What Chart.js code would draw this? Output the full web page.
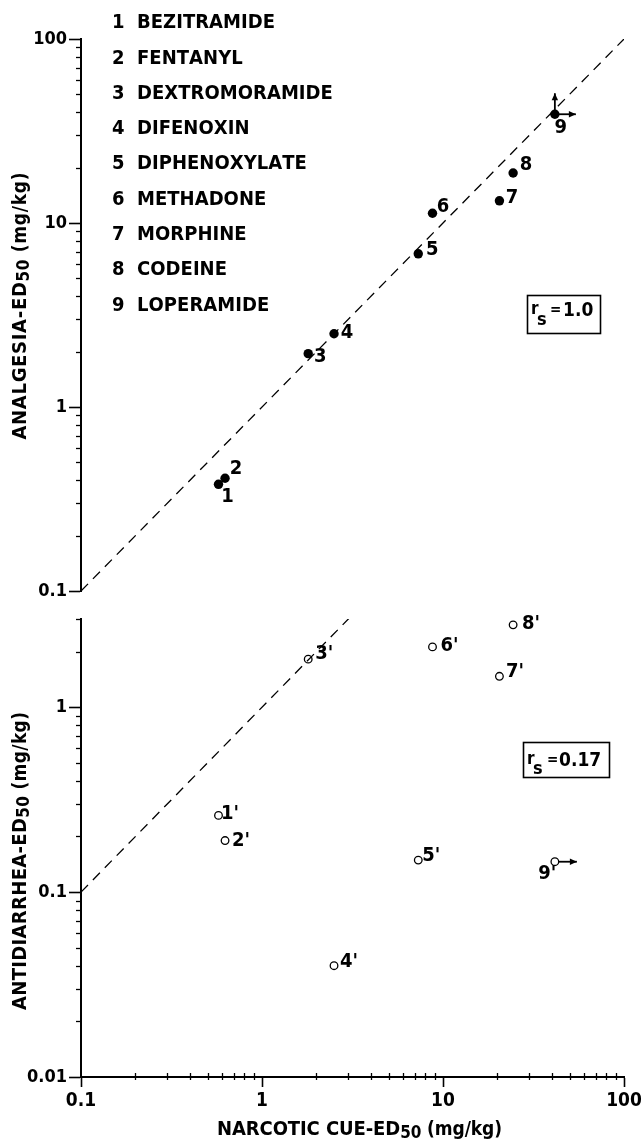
<!DOCTYPE html>
<html><head><meta charset="utf-8">
<script src="https://cdn.jsdelivr.net/npm/chart.js@4.4.1/dist/chart.umd.min.js"></script>
<style>
html,body{margin:0;padding:0;background:#fff;}
#wrap{position:relative;width:641px;height:1142px;overflow:hidden;background:#fff;}
.pane{position:absolute;left:0;}
</style></head><body>
<div id="wrap">
<canvas id="cTop" class="pane" width="680" height="612" style="top:0"></canvas>
<canvas id="cBot" class="pane" width="680" height="542" style="top:600px"></canvas>
</div>
<script>
// ---------------- data ----------------
const compoundNumbers = ['1','2','3','4','5','6','7','8','9'];
const compoundNames = ['BEZITRAMIDE','FENTANYL','DEXTROMORAMIDE','DIFENOXIN','DIPHENOXYLATE','METHADONE','MORPHINE','CODEINE','LOPERAMIDE'];
const narcoticCueED50 = [0.575, 0.625, 1.8, 2.5, 7.3, 8.75, 20.5, 24.4, 41.5];
const analgesiaED50 = [0.38, 0.41, 1.95, 2.5, 6.8, 11.3, 13.2, 18.7, 39];
const antidiarrheaED50 = [0.26, 0.19, 1.82, 0.040, 0.149, 2.12, 1.47, 2.79, 0.146];
const antidiarrheaPointLabels = ["1'","2'","3'","4'","5'","6'","7'","8'","9'"];
const identityLine = [0.1, 100];
const xRange = [0.1, 100];
const analgesiaRange = [0.1, 100];
const antidiarrheaRange = [0.01, 3];
const xTickLabels = ['0.1','1','10','100'];
const analgesiaTickLabels = ['0.1','1','10','100'];
const antidiarrheaTickLabels = ['0.01','0.1','1'];
const rsAnalgesia = '1.0';
const rsAntidiarrhea = '0.17';
const xTitle = ['NARCOTIC CUE-ED','50',' (mg/kg)'];
const analgesiaTitle = ['ANALGESIA-ED','50',' (mg/kg)'];
const antidiarrheaTitle = ['ANTIDIARRHEA-ED','50',' (mg/kg)'];

// ---------------- font choice ----------------
function hasFont(name) {
  const c = document.createElement('canvas').getContext('2d');
  const t = 'BEZITRAMIDE 0123456789 mg/kg';
  c.font = '40px monospace'; const a = c.measureText(t).width;
  c.font = `40px "${name}", monospace`; const b = c.measureText(t).width;
  return Math.abs(a - b) > 0.5;
}
const candidates = [['Liberation Sans Narrow', 'bold'], ['DejaVu Sans Condensed', 'bold'], ['Roboto Condensed', 'bold'], ['Roboto', 'bold'], ['DejaVu Sans', 'bold']];
const pick = candidates.find(c => hasFont(c[0])) || ['sans-serif', 'bold'];
const FONT = `"${pick[0]}", sans-serif`;
const WEIGHT = pick[1];

// ---------------- helpers ----------------
const font = (size, weight) => `${weight || WEIGHT} ${size}px ${FONT}`;
const isPow10 = v => { const l = Math.log10(v); return Math.abs(l - Math.round(l)) < 1e-9; };
function decadeTicks(min, max) {
  const out = [];
  for (let e = Math.floor(Math.log10(min)); e <= Math.ceil(Math.log10(max)); e++) {
    for (let m = 1; m <= 9; m++) {
      const v = parseFloat((m * Math.pow(10, e)).toPrecision(6));
      if (v >= min * 0.9999 && v <= max * 1.0001) out.push(v);
    }
  }
  return out;
}
const labelFor = list => v => { const s = list.find(l => Math.abs(parseFloat(l) - v) <= 1e-6 * v); return s === undefined ? '' : s; };

function drawSpaced(ctx, t, x, y, sp) { for (const ch of t) { ctx.fillText(ch, x, y); x += ctx.measureText(ch).width + sp; } return x; }
function spacedWidth(ctx, t, sp) { let w = 0; for (const ch of t) w += ctx.measureText(ch).width + sp; return w - sp; }
function drawFit(ctx, t, x, y, target) { const w = spacedWidth(ctx, t, 0); drawSpaced(ctx, t, x, y, Math.max(0, (target - w) / Math.max(1, t.length - 1))); }
function drawRich(ctx, parts, cx, cy, target) {
  let w = 0, n = 0;
  for (const p of parts) { ctx.font = font(p.size, p.weight); for (const ch of p.t) { w += ctx.measureText(ch).width; n++; } }
  const sp = target ? (target - w) / (n - 1) : 0;
  let x = cx - (w + sp * (n - 1)) / 2;
  ctx.textBaseline = 'middle'; ctx.textAlign = 'left';
  for (const p of parts) {
    ctx.font = font(p.size, p.weight);
    for (const ch of p.t) { ctx.fillText(ch, x, cy + (p.dy || 0)); x += ctx.measureText(ch).width + sp; }
  }
}
function arrow(ctx, x0, y0, x1, y1) {
  ctx.beginPath(); ctx.moveTo(x0, y0); ctx.lineTo(x1, y1); ctx.lineWidth = 1.8; ctx.stroke();
  const a = Math.atan2(y1 - y0, x1 - x0), L = 7, W = 3.2;
  ctx.beginPath();
  ctx.moveTo(x1, y1);
  ctx.lineTo(x1 - L * Math.cos(a) - W * Math.sin(a), y1 - L * Math.sin(a) + W * Math.cos(a));
  ctx.lineTo(x1 - L * Math.cos(a) + W * Math.sin(a), y1 - L * Math.sin(a) - W * Math.cos(a));
  ctx.closePath(); ctx.fill();
}

// plugin: minor ticks, point labels, arrows, titles, boxes, legend list
const annot = {
  id: 'annot',
  afterDraw(chart, args, o) {
    const ctx = chart.ctx; ctx.save();
    ctx.fillStyle = '#000'; ctx.strokeStyle = '#000';
    // minor ticks
    const ys = chart.scales.y;
    ctx.lineWidth = 1.3;
    for (const t of ys.ticks) {
      if (isPow10(t.value)) continue;
      const p = Math.round(ys.getPixelForValue(t.value)) + 0.5;
      ctx.beginPath(); ctx.moveTo(chart.chartArea.left, p); ctx.lineTo(chart.chartArea.left - 5, p); ctx.stroke();
    }
    const xs = chart.scales.x;
    if (xs.options.display) {
      for (const t of xs.ticks) {
        if (isPow10(t.value)) continue;
        const p = Math.round(xs.getPixelForValue(t.value)) + 0.5;
        ctx.beginPath(); ctx.moveTo(p, chart.chartArea.bottom + 3); ctx.lineTo(p, chart.chartArea.bottom - 4); ctx.stroke();
      }
    }
    // point labels
    const meta = chart.getDatasetMeta(o.pointDataset);
    ctx.font = font(20); ctx.textAlign = 'center'; ctx.textBaseline = 'middle';
    meta.data.forEach((el, i) => {
      const [dx, dy] = o.labelOffsets[i];
      ctx.fillText(o.pointLabels[i], el.x + dx, el.y + dy);
    });
    // arrows (censored values)
    for (const a of o.arrows) {
      const el = meta.data[a.index];
      if (a.dir === 'up') arrow(ctx, el.x, el.y, el.x, el.y - a.len);
      else arrow(ctx, el.x + (a.start || 0), el.y, el.x + a.len, el.y);
    }
    // y title
    ctx.save();
    ctx.translate(o.yTitle.x, o.yTitle.y); ctx.rotate(-Math.PI / 2);
    drawRich(ctx, [{t: o.yTitle.parts[0], size: 20}, {t: o.yTitle.parts[1], size: 17, dy: 4}, {t: o.yTitle.parts[2], size: 19}], 0, 0, o.yTitle.len);
    ctx.restore();
    if (o.xTitle) drawRich(ctx, [{t: o.xTitle.parts[0], size: 20}, {t: o.xTitle.parts[1], size: 17, dy: 4}, {t: o.xTitle.parts[2], size: 19}], o.xTitle.x, o.xTitle.y, o.xTitle.len);
    // r_s box
    const b = o.box;
    ctx.lineWidth = 1.6; ctx.strokeRect(b.x + 0.5, b.y + 0.5, b.w, b.h);
    ctx.textAlign = 'left'; ctx.textBaseline = 'alphabetic';
    ctx.font = font(17); ctx.fillText('r', b.rx, b.base - 2);
    ctx.font = font(18); ctx.fillText('s', b.sx, b.sBase);
    ctx.font = font(15); ctx.fillText('=', b.ex, b.base - 2);
    ctx.font = font(19); drawFit(ctx, b.value, b.vx, b.base, b.vw);
    // legend list
    if (o.legend) {
      ctx.font = font(20); ctx.textBaseline = 'middle'; ctx.textAlign = 'left';
      const sp = (138 - spacedWidth(ctx, compoundNames[0], 0)) / (compoundNames[0].length - 1);
      compoundNames.forEach((n, i) => {
        const y = 23 + i * 35.3;
        ctx.fillText(compoundNumbers[i], 112, y);
        drawSpaced(ctx, n, 137, y, sp);
      });
    }
    ctx.restore();
  }
};

function yScale(range, labels) {
  return {
    type: 'logarithmic', min: range[0], max: range[1],
    afterFit: s => { s.width = 81; },
    afterBuildTicks: s => { s.ticks = decadeTicks(range[0], range[1]).map(v => ({value: v})); },
    ticks: {autoSkip: false, callback: labelFor(labels), color: '#000', padding: 2, font: {family: FONT, size: 18, weight: WEIGHT}},
    grid: {drawOnChartArea: false, drawTicks: true, tickLength: 12, tickWidth: 1.6,
      tickColor: c => (c.tick && isPow10(c.tick.value)) ? '#000' : 'rgba(0,0,0,0)'},
    border: {display: true, color: '#000', width: 2}
  };
}

const lineDs = {
  type: 'scatter', showLine: true, data: identityLine.map(v => ({x: v, y: v})),
  borderColor: '#000', borderWidth: 1.3, borderDash: [10, 7], pointRadius: 0, fill: false
};

new Chart(document.getElementById('cTop'), {
  type: 'scatter',
  data: {datasets: [
    Object.assign({}, lineDs, {label: 'identity'}),
    {label: 'Analgesia', data: narcoticCueED50.map((x, i) => ({x, y: analgesiaED50[i]})),
     pointRadius: 4.7, pointBackgroundColor: '#000', pointBorderColor: '#000', pointBorderWidth: 0}
  ]},
  options: {
    responsive: false, animation: false, devicePixelRatio: 1,
    layout: {padding: {top: 39, right: 56, bottom: 21, left: 0}},
    scales: {
      x: {type: 'logarithmic', min: xRange[0], max: xRange[1], display: false},
      y: yScale(analgesiaRange, analgesiaTickLabels)
    },
    plugins: {
      legend: {display: false}, tooltip: {enabled: false},
      annot: {
        pointDataset: 1, pointLabels: compoundNumbers,
        labelOffsets: [[9,12],[11,-9],[12,3],[13,-1],[14,-4],[10.5,-6],[12.5,-3],[13,-8],[6,13.5]],
        arrows: [{index: 8, dir: 'up', len: 21}, {index: 8, dir: 'right', len: 21}],
        yTitle: {x: 21, y: 306, len: 267, parts: analgesiaTitle},
        box: {x: 527, y: 295, w: 73, h: 38, rx: 531, sx: 537, ex: 550, vx: 563, vw: 24, base: 316, sBase: 325, value: rsAnalgesia},
        legend: true
      }
    }
  },
  plugins: [annot]
});

new Chart(document.getElementById('cBot'), {
  type: 'scatter',
  data: {datasets: [
    Object.assign({}, lineDs, {label: 'identity'}),
    {label: 'Antidiarrhea', data: narcoticCueED50.map((x, i) => ({x, y: antidiarrheaED50[i]})),
     pointRadius: 3.8, pointBackgroundColor: '#fff', pointBorderColor: '#000', pointBorderWidth: 1.3}
  ]},
  options: {
    responsive: false, animation: false, devicePixelRatio: 1,
    layout: {padding: {top: 19, right: 56, bottom: 0, left: 0}},
    scales: {
      x: {type: 'logarithmic', min: xRange[0], max: xRange[1],
        afterFit: s => { s.height = 65; },
        afterBuildTicks: s => { s.ticks = decadeTicks(xRange[0], xRange[1]).map(v => ({value: v})); },
        ticks: {autoSkip: false, maxRotation: 0, callback: labelFor(xTickLabels), color: '#000', padding: 3, font: {family: FONT, size: 19, weight: WEIGHT}},
        grid: {drawOnChartArea: false, drawTicks: true, tickLength: 10, tickWidth: 1.6,
          tickColor: c => (c.tick && isPow10(c.tick.value)) ? '#000' : 'rgba(0,0,0,0)'},
        border: {display: true, color: '#000', width: 2}
      },
      y: yScale(antidiarrheaRange, antidiarrheaTickLabels)
    },
    plugins: {
      legend: {display: false}, tooltip: {enabled: false},
      annot: {
        pointDataset: 1, pointLabels: antidiarrheaPointLabels,
        labelOffsets: [[11.5,-1.5],[16,0],[16,-5],[15,-4],[13,-4.5],[17,-1.5],[15.5,-4.5],[18,-1.5],[-7.5,12.5]],
        arrows: [{index: 8, dir: 'right', len: 22, start: 4}],
        yTitle: {x: 21, y: 261, len: 298, parts: antidiarrheaTitle},
        xTitle: {x: 359.5, y: 530, len: 285, parts: xTitle},
        box: {x: 523, y: 142, w: 86, h: 35, rx: 527, sx: 533, ex: 547, vx: 559, vw: 40, base: 166, sBase: 174, value: rsAntidiarrhea},
        legend: false
      }
    }
  },
  plugins: [annot]
});
</script>
</body></html>
